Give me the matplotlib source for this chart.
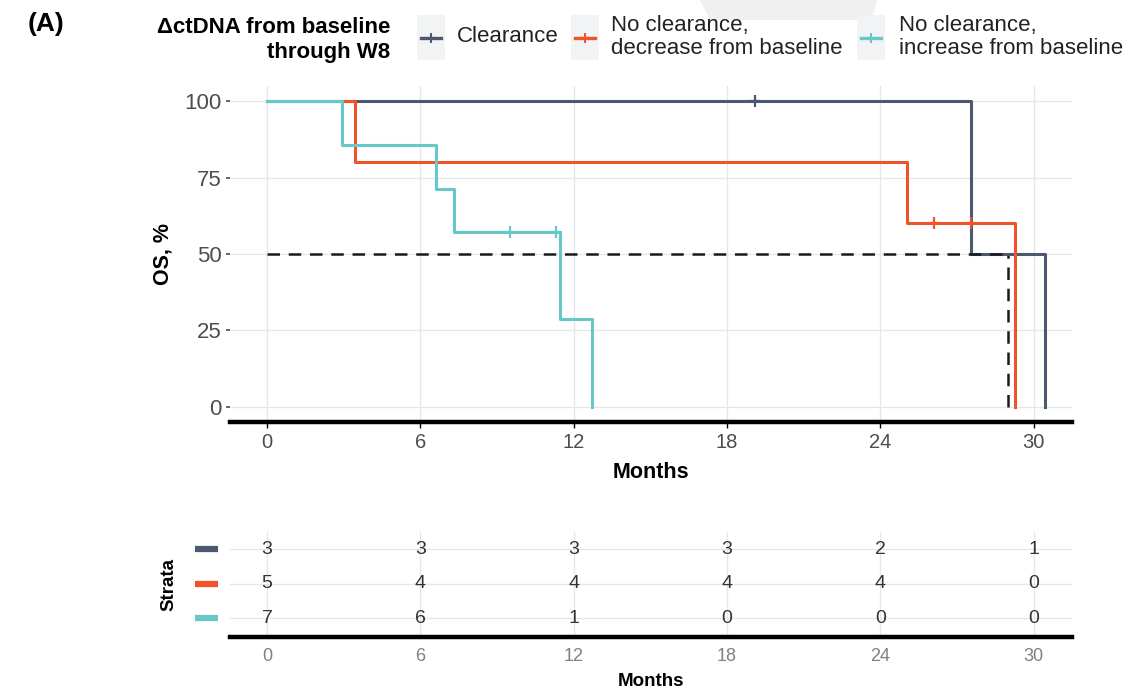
import numpy as np
import matplotlib
matplotlib.use("Agg")
import matplotlib.pyplot as plt
from matplotlib.lines import Line2D
from matplotlib.patches import Rectangle, Polygon

plt.rcParams['font.family'] = ['Liberation Sans', 'DejaVu Sans']

# groups
labels = ["Clearance", "No clearance,\ndecrease from baseline", "No clearance,\nincrease from baseline"]
colors = ["#4a5970", "#f0522a", "#67c8c8"]

# KM steps: time of each step and OS (%) after it
clear_t = [0, 27.55, 30.45]
clear_s = [100, 50, 0]
decr_t = [0, 3.45, 25.05, 29.25]
decr_s = [100, 80, 60, 0]
incr_t = [0, 2.95, 6.6, 7.3, 11.45, 12.7]
incr_s = [100, 85.7, 71.4, 57.1, 28.6, 0]

# censored times
clear_cens = [19.1]
decr_cens = [26.1, 27.55]
incr_cens = [9.5, 11.3]

# median OS line (months)
median_os = 29.0

# number at risk
risk_times = [0, 6, 12, 18, 24, 30]
clear_risk = [3, 3, 3, 3, 2, 1]
decr_risk = [5, 4, 4, 4, 4, 0]
incr_risk = [7, 6, 1, 0, 0, 0]

curves = [(clear_t, clear_s, clear_cens), (decr_t, decr_s, decr_cens), (incr_t, incr_s, incr_cens)]
risks = [clear_risk, decr_risk, incr_risk]


def surv_at(t, times, surv):
    idx = np.searchsorted(times, t, side="right") - 1
    return surv[idx]


W, H = 1148, 689
fig = plt.figure(figsize=(W / 100, H / 100), dpi=100)

# faint artefact at top
fig.patches.append(Polygon([(700 / W, 1), (877 / W, 1), (872 / W, 1 - 20 / H), (710 / W, 1 - 20 / H)],
                           closed=True, transform=fig.transFigure, facecolor="#f0f0f0",
                           edgecolor="none", zorder=0))

xl = (-1.45, 31.5)
grid_c = "#e6e6e6"
tick_c = "#4d4d4d"

# main KM panel
ax = fig.add_axes([230 / W, 1 - 422 / H, 842 / W, 336 / H])
for i, (t, s, cens) in enumerate(curves):
    ax.step(t, s, where="post", color=colors[i], lw=2.2, zorder=3)
    cy = [surv_at(c, t, s) for c in cens]
    ax.plot(cens, cy, ls="none", marker="+", ms=8, mew=1.6, color=colors[i], zorder=4)

ax.plot([0, median_os], [50, 50], color="#1a1a1a", lw=1.8, ls=(0, (5, 3.5)), zorder=5)
ax.plot([median_os, median_os], [0, 50], color="#1a1a1a", lw=1.8, ls=(0, (5, 3.5)), zorder=2)

ax.set_xlim(*xl)
ax.set_ylim(-5, 105)
ax.set_xticks(risk_times)
ax.set_yticks([0, 25, 50, 75, 100])
ax.grid(True, color=grid_c, lw=0.9)
ax.set_axisbelow(True)
for sp in ["top", "right", "left"]:
    ax.spines[sp].set_visible(False)
ax.spines["bottom"].set_linewidth(3.2)
ax.spines["bottom"].set_color("black")
ax.tick_params(axis="y", length=3, width=1.2, color=tick_c, labelcolor=tick_c, labelsize=16, pad=3)
ax.tick_params(axis="x", length=4, width=1, color="black", labelcolor=tick_c, labelsize=14.5, pad=4)
ax.set_xlabel("Months", fontsize=15.5, fontweight="bold", labelpad=7)
ax.set_ylabel("OS, %", fontsize=15.5, fontweight="bold", labelpad=8)

# risk table
rt = fig.add_axes([230 / W, 1 - 637 / H, 842 / W, 105 / H])
for i, r in enumerate(risks):
    yv = 3 - i
    for x, n in zip(risk_times, r):
        rt.text(x, yv, str(n), ha="center", va="center", fontsize=14, color="#333333")
rt.set_xlim(*xl)
rt.set_ylim(0.45, 3.5)
rt.set_xticks(risk_times)
rt.set_yticks([3, 2, 1])
rt.set_yticklabels([])
rt.grid(True, color=grid_c, lw=0.9)
rt.set_axisbelow(True)
for sp in ["top", "right", "left"]:
    rt.spines[sp].set_visible(False)
rt.spines["bottom"].set_linewidth(3.2)
rt.tick_params(axis="y", length=0)
rt.tick_params(axis="x", length=0, labelcolor="#808080", labelsize=13, pad=8)
rt.set_xlabel("Months", fontsize=13.5, fontweight="bold", labelpad=6)
rt.set_ylabel("Strata", fontsize=13.5, fontweight="bold", labelpad=34)
for i in range(3):
    yv = 3 - i
    rt.add_line(Line2D([(195 - 230) / 842, (218 - 230) / 842], [yv, yv], transform=rt.get_yaxis_transform(),
                       color=colors[i], lw=4.5, clip_on=False, solid_capstyle="butt"))

# panel tag and legend
fig.text(28 / W, 1 - 24 / H, "(A)", fontsize=19, fontweight="bold", va="center", ha="left")
fig.text(390 / W, 1 - 40 / H, "\u0394ctDNA from baseline\nthrough W8", fontsize=16, fontweight="bold",
         ha="right", va="center", linespacing=1.2)

key_x = [417, 571, 857]
text_x = [457, 611, 899]
for i in range(3):
    fig.patches.append(Rectangle((key_x[i] / W, 1 - 60 / H), 28 / W, 45 / H, transform=fig.transFigure,
                                 facecolor="#f2f3f5", edgecolor="none", zorder=1))
    fig.add_artist(Line2D([(key_x[i] + 4) / W, (key_x[i] + 24) / W], [1 - 38 / H, 1 - 38 / H],
                          transform=fig.transFigure, color=colors[i], lw=2.4, zorder=2))
    fig.add_artist(Line2D([(key_x[i] + 14) / W], [1 - 38 / H], transform=fig.transFigure, color=colors[i],
                          marker="+", ms=7, mew=1.5, ls="none", zorder=3))
    fig.text(text_x[i] / W, 1 - 37 / H, labels[i], fontsize=16, ha="left", va="center",
             color="#222222", linespacing=1.15)

fig.savefig("out.png", dpi=100)
